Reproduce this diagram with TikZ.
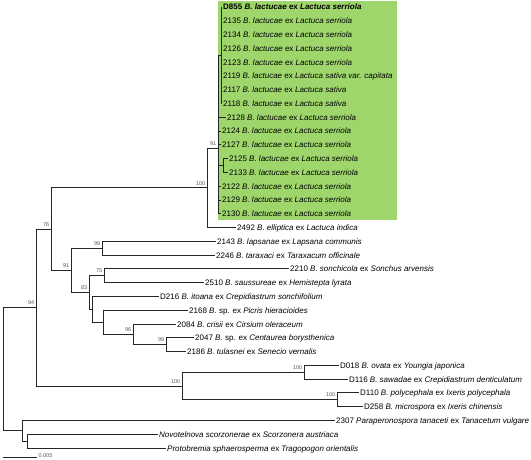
\documentclass[tikz,border=0pt]{standalone}
\usepackage{fontspec}
\setmainfont{Liberation Sans}
\usepackage{tikz}
\usetikzlibrary{backgrounds, fit}
\definecolor{lgreen}{RGB}{158,214,108}
\definecolor{bootgray}{rgb}{0.35,0.35,0.35}

\begin{document}
\begin{tikzpicture}[
            x = 1pt, y = -1pt, % pixel grid, y runs down
            font = \fontsize{8}{9}\selectfont
        ]

        \tikzstyle{leaf}=[
            anchor = west,
            inner sep = 1pt,
            text height = 6pt,
            text depth = 0pt
        ]
        \tikzstyle{branch}=[
            draw = black!85,
            line width = 0.8pt
        ]
        \tikzstyle{boot}=[
            anchor = south east,
            inner sep = 0.5pt,
            xshift = -1pt, yshift = 2pt,
            text = bootgray,
            font = \fontsize{5.5}{6}\selectfont
        ]

        \useasboundingbox (0,0) rectangle (531,460);

	% lactucae clade
        \node[leaf] (L0) at (222,7) {\textbf{D855 \textit{B. lactucae} ex \textit{Lactuca serriola}}};
        \node[leaf] (L1) at (222,20.8) {2135 \textit{B. lactucae} ex \textit{Lactuca serriola}};
        \node[leaf] (L2) at (222,34.6) {2134 \textit{B. lactucae} ex \textit{Lactuca serriola}};
        \node[leaf] (L3) at (222,48.3) {2126 \textit{B. lactucae} ex \textit{Lactuca serriola}};
        \node[leaf] (L4) at (222,62.1) {2123 \textit{B. lactucae} ex \textit{Lactuca serriola}};
        \node[leaf] (L5) at (222,75.9) {2119 \textit{B. lactucae} ex \textit{Lactuca sativa var. capitata}};
        \node[leaf] (L6) at (222,89.7) {2117 \textit{B. lactucae} ex \textit{Lactuca sativa}};
        \node[leaf] (L7) at (222,103.5) {2118 \textit{B. lactucae} ex \textit{Lactuca sativa}};
        \node[leaf] (L8) at (226,117.2) {2128 \textit{B. lactucae} ex \textit{Lactuca serriola}};
        \node[leaf] (L9) at (221,131) {2124 \textit{B. lactucae} ex \textit{Lactuca serriola}};
        \node[leaf] (L10) at (221,144.8) {2127 \textit{B. lactucae} ex \textit{Lactuca serriola}};
        \node[leaf] (L11) at (228,158.6) {2125 \textit{B. lactucae} ex \textit{Lactuca serriola}};
        \node[leaf] (L12) at (228,172.4) {2133 \textit{B. lactucae} ex \textit{Lactuca serriola}};
        \node[leaf] (L13) at (221,186.1) {2122 \textit{B. lactucae} ex \textit{Lactuca serriola}};
        \node[leaf] (L14) at (221,199.9) {2129 \textit{B. lactucae} ex \textit{Lactuca serriola}};
        \node[leaf] (L15) at (221,213.7) {2130 \textit{B. lactucae} ex \textit{Lactuca serriola}};

	% other Bremia
        \node[leaf] (L16) at (236,227.5) {2492 \textit{B. elliptica} ex \textit{Lactuca indica}};
        \node[leaf] (L17) at (216,241.3) {2143 \textit{B. lapsanae} ex \textit{Lapsana communis}};
        \node[leaf] (L18) at (215,255) {2246 \textit{B. taraxaci} ex \textit{Taraxacum officinale}};
        \node[leaf] (L19) at (289,268.8) {2210 \textit{B. sonchicola} ex \textit{Sonchus arvensis}};
        \node[leaf] (L20) at (204,282.6) {2510 \textit{B. saussureae} ex \textit{Hemistepta lyrata}};
        \node[leaf] (L21) at (159,296.4) {D216 \textit{B. itoana} ex \textit{Crepidiastrum sonchifolium}};
        \node[leaf] (L22) at (188,310.2) {2168 \textit{B.} sp. ex \textit{Picris hieracioides}};
        \node[leaf] (L23) at (176,324) {2084 \textit{B. crisii} ex \textit{Cirsium oleraceum}};
        \node[leaf] (L24) at (194,337.7) {2047 \textit{B.} sp. ex \textit{Centaurea borysthenica}};
        \node[leaf] (L25) at (186,351.5) {2186 \textit{B. tulasnei} ex \textit{Senecio vernalis}};
        \node[leaf] (L26) at (339,365.3) {D018 \textit{B. ovata} ex \textit{Youngia japonica}};
        \node[leaf] (L27) at (348,379.1) {D116 \textit{B. sawadae} ex \textit{Crepidiastrum denticulatum}};
        \node[leaf] (L28) at (359,392.8) {D110 \textit{B. polycephala} ex \textit{Ixeris polycephala}};
        \node[leaf] (L29) at (363,406.6) {D258 \textit{B. microspora} ex \textit{Ixeris chinensis}};

	% outgroup
        \node[leaf] (L30) at (335,420.4) {2307 \textit{Paraperonospora tanaceti} ex \textit{Tanacetum vulgare}};
        \node[leaf] (L31) at (158,434.2) {\textit{Novotelnova scorzonerae} ex \textit{Scorzonera austriaca}};
        \node[leaf] (L32) at (166,448) {\textit{Protobremia sphaerosperma} ex \textit{Tragopogon orientalis}};

	% inner nodes
        \coordinate (nA) at (221,55.2);
        \coordinate (nB) at (223,165.5);
        \coordinate (n91) at (218,148);
        \coordinate (n100) at (207,187.8);
        \coordinate (n99) at (102,248.2);
        \coordinate (n75) at (104,275.7);
        \coordinate (n99b) at (166,344.6);
        \coordinate (n96) at (133,334.3);
        \coordinate (nC) at (103,322.2);
        \coordinate (nD) at (92,309.3);
        \coordinate (n83) at (89,292.5);
        \coordinate (n91b) at (71,270.3);
        \coordinate (n76) at (51,229);
        \coordinate (nE) at (304,372.2);
        \coordinate (nF) at (337,399.7);
        \coordinate (n100b) at (182,386);
        \coordinate (n94) at (36,307.5);
        \coordinate (nG) at (27,441.1);
        \coordinate (nOut) at (22,430.7);
        \coordinate (root) at (3,369);

        \draw[branch] (nA) |- (L0.west) (nA) |- (L1.west) (nA) |- (L2.west) (nA) |- (L3.west);
        \draw[branch] (nA) |- (L4.west) (nA) |- (L5.west) (nA) |- (L6.west) (nA) |- (L7.west);
        \draw[branch] (nB) |- (L11.west) (nB) |- (L12.west);
        \draw[branch] (n91) |- (nA) (n91) |- (L8.west) (n91) |- (L9.west) (n91) |- (L10.west);
        \draw[branch] (n91) |- (nB) (n91) |- (L13.west) (n91) |- (L14.west) (n91) |- (L15.west);
        \draw[branch] (n100) |- (n91) (n100) |- (L16.west);
        \draw[branch] (n99) |- (L17.west) (n99) |- (L18.west);
        \draw[branch] (n75) |- (L19.west) (n75) |- (L20.west);
        \draw[branch] (n99b) |- (L24.west) (n99b) |- (L25.west);
        \draw[branch] (n96) |- (L23.west) (n96) |- (n99b);
        \draw[branch] (nC) |- (L22.west) (nC) |- (n96);
        \draw[branch] (nD) |- (L21.west) (nD) |- (nC);
        \draw[branch] (n83) |- (n75) (n83) |- (nD);
        \draw[branch] (n91b) |- (n99) (n91b) |- (n83);
        \draw[branch] (n76) |- (n100) (n76) |- (n91b);
        \draw[branch] (nE) |- (L26.west) (nE) |- (L27.west);
        \draw[branch] (nF) |- (L28.west) (nF) |- (L29.west);
        \draw[branch] (n100b) |- (nE) (n100b) |- (nF);
        \draw[branch] (n94) |- (n76) (n94) |- (n100b);
        \draw[branch] (nG) |- (L31.west) (nG) |- (L32.west);
        \draw[branch] (nOut) |- (L30.west) (nOut) |- (nG);
        \draw[branch] (root) |- (n94) (root) |- (nOut);

	% bootstrap values
        \node[boot] (b91) at (n91) {91};
        \node[boot] (b100) at (n100) {100};
        \node[boot] (b76) at (n76) {76};
        \node[boot] (b99) at (n99) {99};
        \node[boot] (b91b) at (n91b) {91};
        \node[boot] (b75) at (n75) {75};
        \node[boot] (b83) at (n83) {83};
        \node[boot] (b96) at (n96) {96};
        \node[boot] (b99b) at (n99b) {99};
        \node[boot] (b94) at (n94) {94};
        \node[boot] (b100b) at (n100b) {100};
        \node[boot] (b100e) at (nE) {100};
        \node[boot] (b100f) at (nF) {100};

	% scale bar
        \coordinate (S1) at (3,457.5);
        \coordinate (S2) at (37,457.5);
        \draw[branch] (S1) -- (S2);
        \node[boot, anchor = west, xshift = 2pt, yshift = -0.5pt] (SL) at (S2) {0.005};

          \begin{scope}[on background layer]
   	  \node [fit=(L0) (L5) (L15), fill=lgreen, inner xsep=3pt, inner ysep=2pt] {};
          \end{scope}

  \end{tikzpicture}
\end{document}
